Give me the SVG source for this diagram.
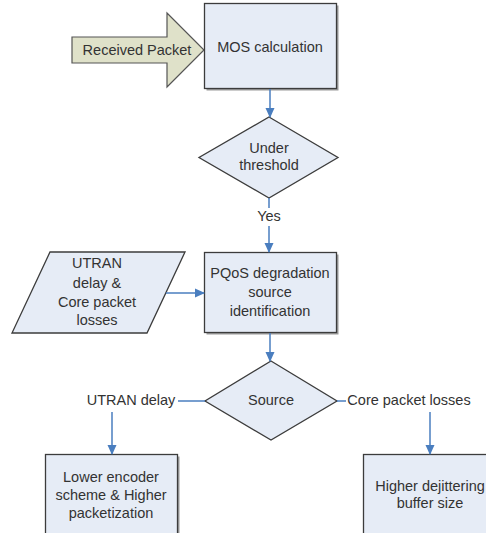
<svg xmlns="http://www.w3.org/2000/svg" width="486" height="533" viewBox="0 0 486 533">
<defs>
<marker id="ah" markerWidth="10" markerHeight="10" refX="9" refY="5" orient="auto" markerUnits="userSpaceOnUse">
<path d="M0,0.5 L10,5 L0,9.5 Z" fill="#4a7ebf"/>
</marker>
</defs>
<style>
.box{fill:#e6ecf6;stroke:#3c3c3c;stroke-width:1.3}
.sh{fill:#9a9a9a}
.t{font-family:"Liberation Sans",Arial,sans-serif;font-size:14.5px;fill:#333;text-anchor:middle}
.c{fill:none;stroke:#4a7ebf;stroke-width:1.5}
.ca{fill:none;stroke:#4a7ebf;stroke-width:1.5;marker-end:url(#ah)}
</style>
<rect width="486" height="533" fill="#fff"/>
<g id="received-packet">
<path d="M72,37 L167,37 L167,13 L204,50 L167,87 L167,63 L72,63 Z" fill="#dfe1c9" stroke="#555" stroke-width="1.2"/>
<text class="t" x="137" y="55">Received Packet</text>
</g>
<g id="mos">
<rect class="sh" x="206.5" y="5.5" width="132" height="85"/>
<rect class="box" x="204.5" y="3.5" width="132" height="85"/>
<text class="t" x="270" y="52">MOS calculation</text>
</g>
<g id="under-threshold">
<polygon class="box" points="269,117 338,157.5 269,198 199,157.5"/>
<text class="t" x="269" y="153">Under</text>
<text class="t" x="269" y="170">threshold</text>
</g>
<g id="inputs">
<polygon class="box" points="50,252 185,252 147,333 12,333"/>
<text class="t" x="97" y="268">UTRAN</text>
<text class="t" x="97" y="288">delay &amp;</text>
<text class="t" x="97" y="307">Core packet</text>
<text class="t" x="97" y="325">losses</text>
</g>
<g id="pqos">
<rect class="sh" x="206.5" y="254.5" width="132" height="80"/>
<rect class="box" x="204.5" y="252.5" width="132" height="80"/>
<text class="t" x="270" y="278">PQoS degradation</text>
<text class="t" x="270" y="297">source</text>
<text class="t" x="270" y="316">identification</text>
</g>
<g id="source">
<polygon class="box" points="271,361 337,401 271,440 205,401"/>
<text class="t" x="271" y="405">Source</text>
</g>
<g id="lower-encoder">
<rect class="sh" x="47.5" y="456.5" width="132" height="90"/>
<rect class="box" x="45.5" y="454.5" width="132" height="90"/>
<text class="t" x="111" y="482">Lower encoder</text>
<text class="t" x="111" y="500">scheme &amp; Higher</text>
<text class="t" x="111" y="518">packetization</text>
</g>
<g id="higher-dejittering">
<rect class="sh" x="365.5" y="456.5" width="132" height="90"/>
<rect class="box" x="363.5" y="454.5" width="132" height="90"/>
<text class="t" x="430" y="491">Higher dejittering</text>
<text class="t" x="430" y="508">buffer size</text>
</g>
<g id="connectors">
<line class="ca" x1="270" y1="89" x2="270" y2="117"/>
<line class="c" x1="269" y1="198" x2="269" y2="208"/>
<text class="t" x="269" y="221">Yes</text>
<line class="ca" x1="269" y1="226" x2="269" y2="252"/>
<line class="ca" x1="166" y1="293" x2="204" y2="293"/>
<line class="ca" x1="270" y1="333" x2="270" y2="361"/>
<line class="c" x1="205" y1="401" x2="178" y2="401"/>
<text class="t" x="131" y="405">UTRAN delay</text>
<line class="ca" x1="112" y1="412" x2="112" y2="454"/>
<line class="c" x1="337" y1="401" x2="346" y2="401"/>
<text class="t" x="409" y="405">Core packet losses</text>
<line class="ca" x1="430" y1="412" x2="430" y2="454"/>
</g>
</svg>
